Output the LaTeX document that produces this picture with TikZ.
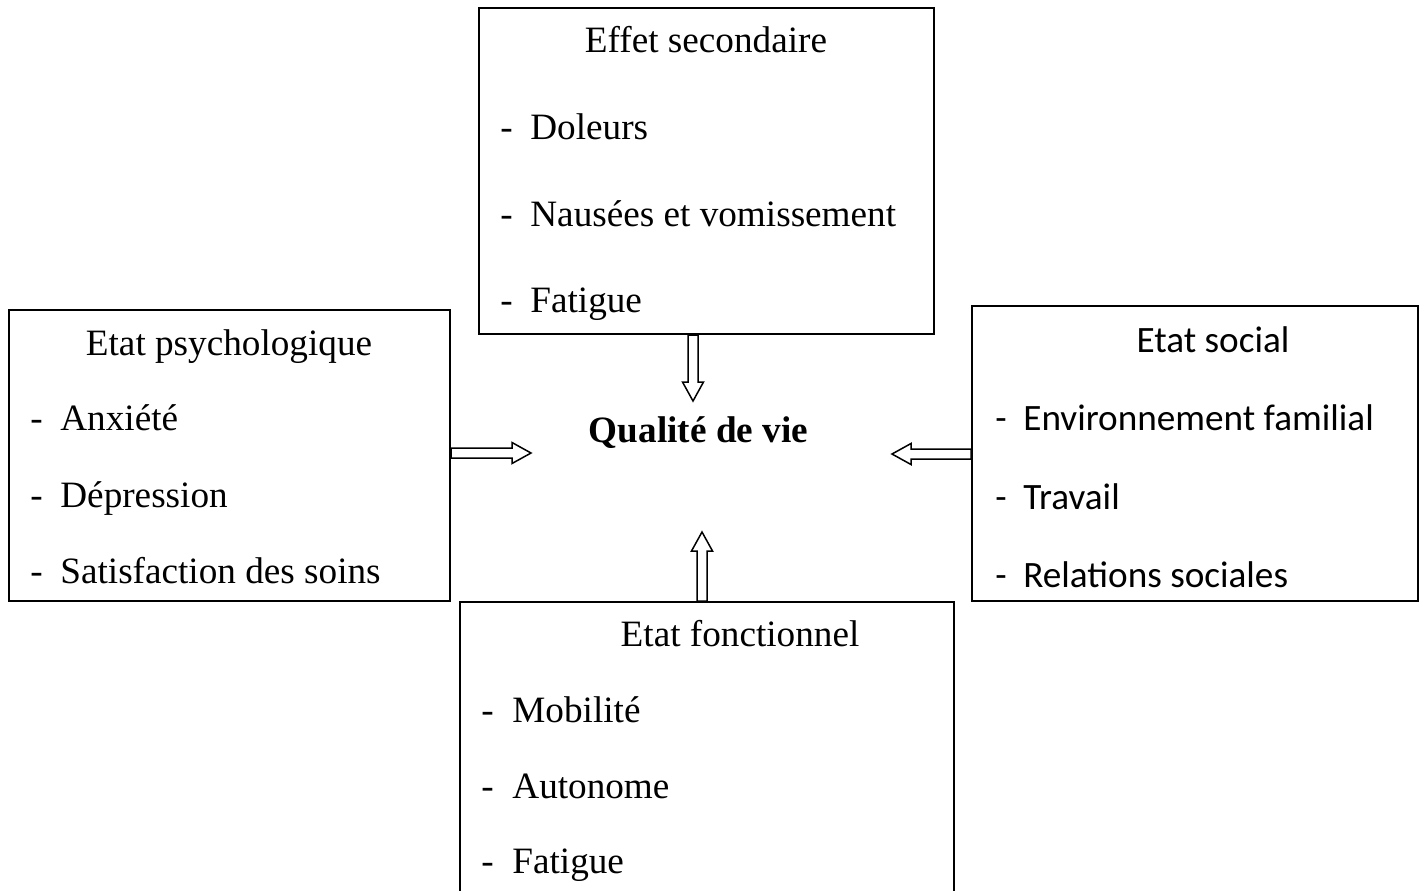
\documentclass[tikz,border=0pt]{standalone}
\usepackage{fontspec}
\setmainfont{Liberation Serif}
\newfontfamily\calib{Carlito}
\usetikzlibrary{fit,calc}
\begin{document}
\begin{tikzpicture}[x=0.5pt,y=-0.5pt,
  box/.style={draw, line width=1pt, inner sep=0pt},
  txt/.style={inner sep=0pt, font=\fontsize{18.6pt}{22pt}\selectfont},
  ttl/.style={txt, anchor=base},
  itm/.style={txt, anchor=base west},
  hol/.style={draw, line width=0.75pt, fill=white, line join=miter},
  pics/harrow/.style={code={
    \draw[hol] (0,-5) -- (#1-19,-5) -- (#1-19,-10.5) -- (#1,0) -- (#1-19,10.5) -- (#1-19,5) -- (0,5) -- cycle;}}]
\useasboundingbox (0,0) rectangle (1424,890);

% boxes
\node[box, fit={(479,8) (934,334)}] (es) {};
\node[box, fit={(9,310) (450,601)}] (ep) {};
\node[box, fit={(972,306) (1418,601)}] (esoc) {};
\node[box, fit={(460,602) (954,910)}] (ef) {};

% centre
\node[ttl, font=\fontsize{18.6pt}{22pt}\selectfont\bfseries] (qdv) at (698.5,442) {Qualité de vie};

% Effet secondaire
\node[ttl] (es-t) at (706,52) {Effet secondaire};
\node[itm] (es-1) at (500,139) {\makebox[15pt][l]{-}Doleurs};
\node[itm] (es-2) at (500,226) {\makebox[15pt][l]{-}Nausées et vomissement};
\node[itm] (es-3) at (500,312) {\makebox[15pt][l]{-}Fatigue};

% Etat psychologique
\node[ttl] (ep-t) at (229,355) {Etat psychologique};
\node[itm] (ep-1) at (30,430) {\makebox[15pt][l]{-}Anxiété};
\node[itm] (ep-2) at (30,507) {\makebox[15pt][l]{-}Dépression};
\node[itm] (ep-3) at (30,583) {\makebox[15pt][l]{-}Satisfaction des soins};

% Etat social
\node[ttl, font=\fontsize{18.6pt}{22pt}\selectfont\calib] (esoc-t) at (1213,352) {Etat social};
\node[itm, font=\fontsize{18.6pt}{22pt}\selectfont\calib] (esoc-1) at (995,430) {\makebox[14pt][l]{-}Environnement familial};
\node[itm, font=\fontsize{18.6pt}{22pt}\selectfont\calib] (esoc-2) at (995,509) {\makebox[14pt][l]{-}Travail};
\node[itm, font=\fontsize{18.6pt}{22pt}\selectfont\calib] (esoc-3) at (995,587) {\makebox[14pt][l]{-}Relations sociales};

% Etat fonctionnel
\node[ttl] (ef-t) at (740,646) {Etat fonctionnel};
\node[itm] (ef-1) at (481,722) {\makebox[15.5pt][l]{-}Mobilité};
\node[itm] (ef-2) at (481,798) {\makebox[15.5pt][l]{-}Autonome};
\node[itm] (ef-3) at (481,873) {\makebox[15.5pt][l]{-}Fatigue};

% arrows
\coordinate (aT) at ($(es.south)+(-13.5,0)$);
\coordinate (aL) at ($(ep.east)+(0,-2.5)$);
\coordinate (aR) at ($(esoc.west)+(0,0.5)$);
\coordinate (aB) at ($(ef.north)+(-5,0)$);
\pic[rotate=-90] at (aT) {harrow=66};
\pic at (aL) {harrow=80};
\pic[rotate=180] at (aR) {harrow=79};
\pic[rotate=90] at (aB) {harrow=69};
\end{tikzpicture}
\end{document}
